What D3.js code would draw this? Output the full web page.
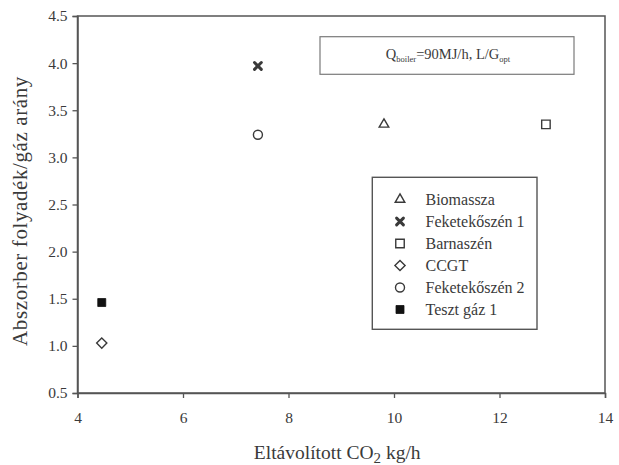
<!DOCTYPE html>
<html>
<head>
<meta charset="utf-8">
<script src="https://cdn.jsdelivr.net/npm/d3@7"></script>
<style>
  html, body { margin: 0; padding: 0; background: #fff; }
  svg { display: block; }
  text { font-family: "Liberation Serif", "DejaVu Serif", serif; fill: #3a3a3a; }
</style>
</head>
<body>
<script>
// ---- data ----
const seriesNames = ["Biomassza", "Feketekőszén 1", "Barnaszén", "CCGT", "Feketekőszén 2", "Teszt gáz 1"];
const seriesSymbols = ["triangle", "times", "square", "diamond", "circle", "filledSquare"];
const removedCO2 = [9.81, 7.42, 12.88, 4.46, 7.42, 4.46];       // kg/h
const liquidGasRatio = [3.35, 3.97, 3.35, 1.03, 3.24, 1.46];
const xTicks = [4, 6, 8, 10, 12, 14];
const yTicks = [0.5, 1.0, 1.5, 2.0, 2.5, 3.0, 3.5, 4.0, 4.5];

const W = 619, H = 465;
const svg = d3.select("body").append("svg").attr("width", W).attr("height", H);

const x = d3.scaleLinear().domain([4, 14]).range([77.5, 605]);
const y = d3.scaleLinear().domain([0.5, 4.5]).range([393, 16]);

const axisColor = "#555";
const markColor = "#3a3a3a";

// frame
svg.append("rect")
  .attr("x", x(4)).attr("y", y(4.5))
  .attr("width", x(14) - x(4)).attr("height", y(0.5) - y(4.5))
  .attr("fill", "none").attr("stroke", axisColor).attr("stroke-width", 1.5);

// axes
const xAxis = d3.axisBottom(x).tickValues(xTicks).tickSize(5).tickPadding(14).tickFormat(d3.format("d"));
const yAxis = d3.axisLeft(y).tickValues(yTicks).tickSize(5).tickPadding(5).tickFormat(d3.format(".1f"));

const gx = svg.append("g").attr("transform", `translate(0,${y(0.5)})`).call(xAxis);
const gy = svg.append("g").attr("transform", `translate(${x(4)},0)`).call(yAxis);
[gx, gy].forEach(g => {
  g.select(".domain").attr("stroke", axisColor).attr("stroke-width", 1.5);
  g.selectAll(".tick line").attr("stroke", axisColor).attr("stroke-width", 1.3);
  g.selectAll(".tick text")
    .attr("font-family", '"Liberation Serif", serif')
    .attr("font-size", 15.5).attr("fill", "#3a3a3a");
});

// axis titles
const xt = svg.append("text")
  .attr("x", (x(4) + x(14)) / 2 - 4).attr("y", 459)
  .attr("text-anchor", "middle").attr("font-size", 19.5);
xt.append("tspan").text("Eltávolított CO");
xt.append("tspan").attr("font-size", 15).attr("dy", 4).text("2");
xt.append("tspan").attr("dy", -4).text(" kg/h");

svg.append("text")
  .attr("transform", `translate(27,211) rotate(-90)`)
  .attr("text-anchor", "middle").attr("font-size", 21)
  .attr("letter-spacing", 0.6)
  .text("Abszorber folyadék/gáz arány");

// marker drawing
function drawMarker(g, type, cx, cy) {
  const s = g.append("g").attr("transform", `translate(${cx},${cy})`);
  const stroke = { fill: "none", stroke: markColor, "stroke-width": 1.4 };
  const apply = (sel, o) => { for (const k in o) sel.attr(k, o[k]); return sel; };
  if (type === "triangle") {
    apply(s.append("path").attr("d", d3.symbol(d3.symbolTriangle, 40)()), stroke);
  } else if (type === "square") {
    apply(s.append("path").attr("d", d3.symbol(d3.symbolSquare, 72)()), stroke);
  } else if (type === "diamond") {
    apply(s.append("path").attr("d", d3.symbol(d3.symbolSquare, 52)()).attr("transform", "rotate(45)"), stroke);
  } else if (type === "circle") {
    apply(s.append("path").attr("d", d3.symbol(d3.symbolCircle, 64)()), stroke);
  } else if (type === "filledSquare") {
    s.append("path").attr("d", d3.symbol(d3.symbolSquare, 64)()).attr("fill", "#111").attr("stroke", "#111").attr("stroke-width", 0.8);
  } else if (type === "times") {
    s.append("path").attr("d", "M-3.4,-3.4L3.4,3.4M-3.4,3.4L3.4,-3.4")
      .attr("fill", "none").attr("stroke", markColor).attr("stroke-width", 3).attr("stroke-linecap", "round");
  }
}

// data points
const pts = svg.append("g");
seriesNames.forEach((n, i) => drawMarker(pts, seriesSymbols[i], x(removedCO2[i]), y(liquidGasRatio[i])));

// annotation box
const ann = svg.append("g");
ann.append("rect").attr("x", 320).attr("y", 36.7).attr("width", 254).attr("height", 37.6)
  .attr("fill", "#fff").attr("stroke", "#7a7a7a").attr("stroke-width", 1.2);
const at = ann.append("text").attr("x", 448).attr("y", 59).attr("text-anchor", "middle").attr("font-size", 14.5);
at.append("tspan").text("Q");
at.append("tspan").attr("font-size", 8.5).attr("dy", 3).text("boiler");
at.append("tspan").attr("dy", -3).text("=90MJ/h, L/G");
at.append("tspan").attr("font-size", 8.5).attr("dy", 3).text("opt");

// legend
const lg = svg.append("g");
lg.append("rect").attr("x", 372.3).attr("y", 177.3).attr("width", 164.7).attr("height", 152)
  .attr("fill", "#fff").attr("stroke", "#555").attr("stroke-width", 1.4);
const rowY = d3.scaleLinear().domain([0, 5]).range([199.5, 309.5]);
seriesNames.forEach((n, i) => {
  drawMarker(lg, seriesSymbols[i], 400, rowY(i));
  lg.append("text").attr("x", 425.5).attr("y", rowY(i)).attr("dy", "0.35em")
    .attr("font-size", 16).text(n);
});
</script>
</body>
</html>
